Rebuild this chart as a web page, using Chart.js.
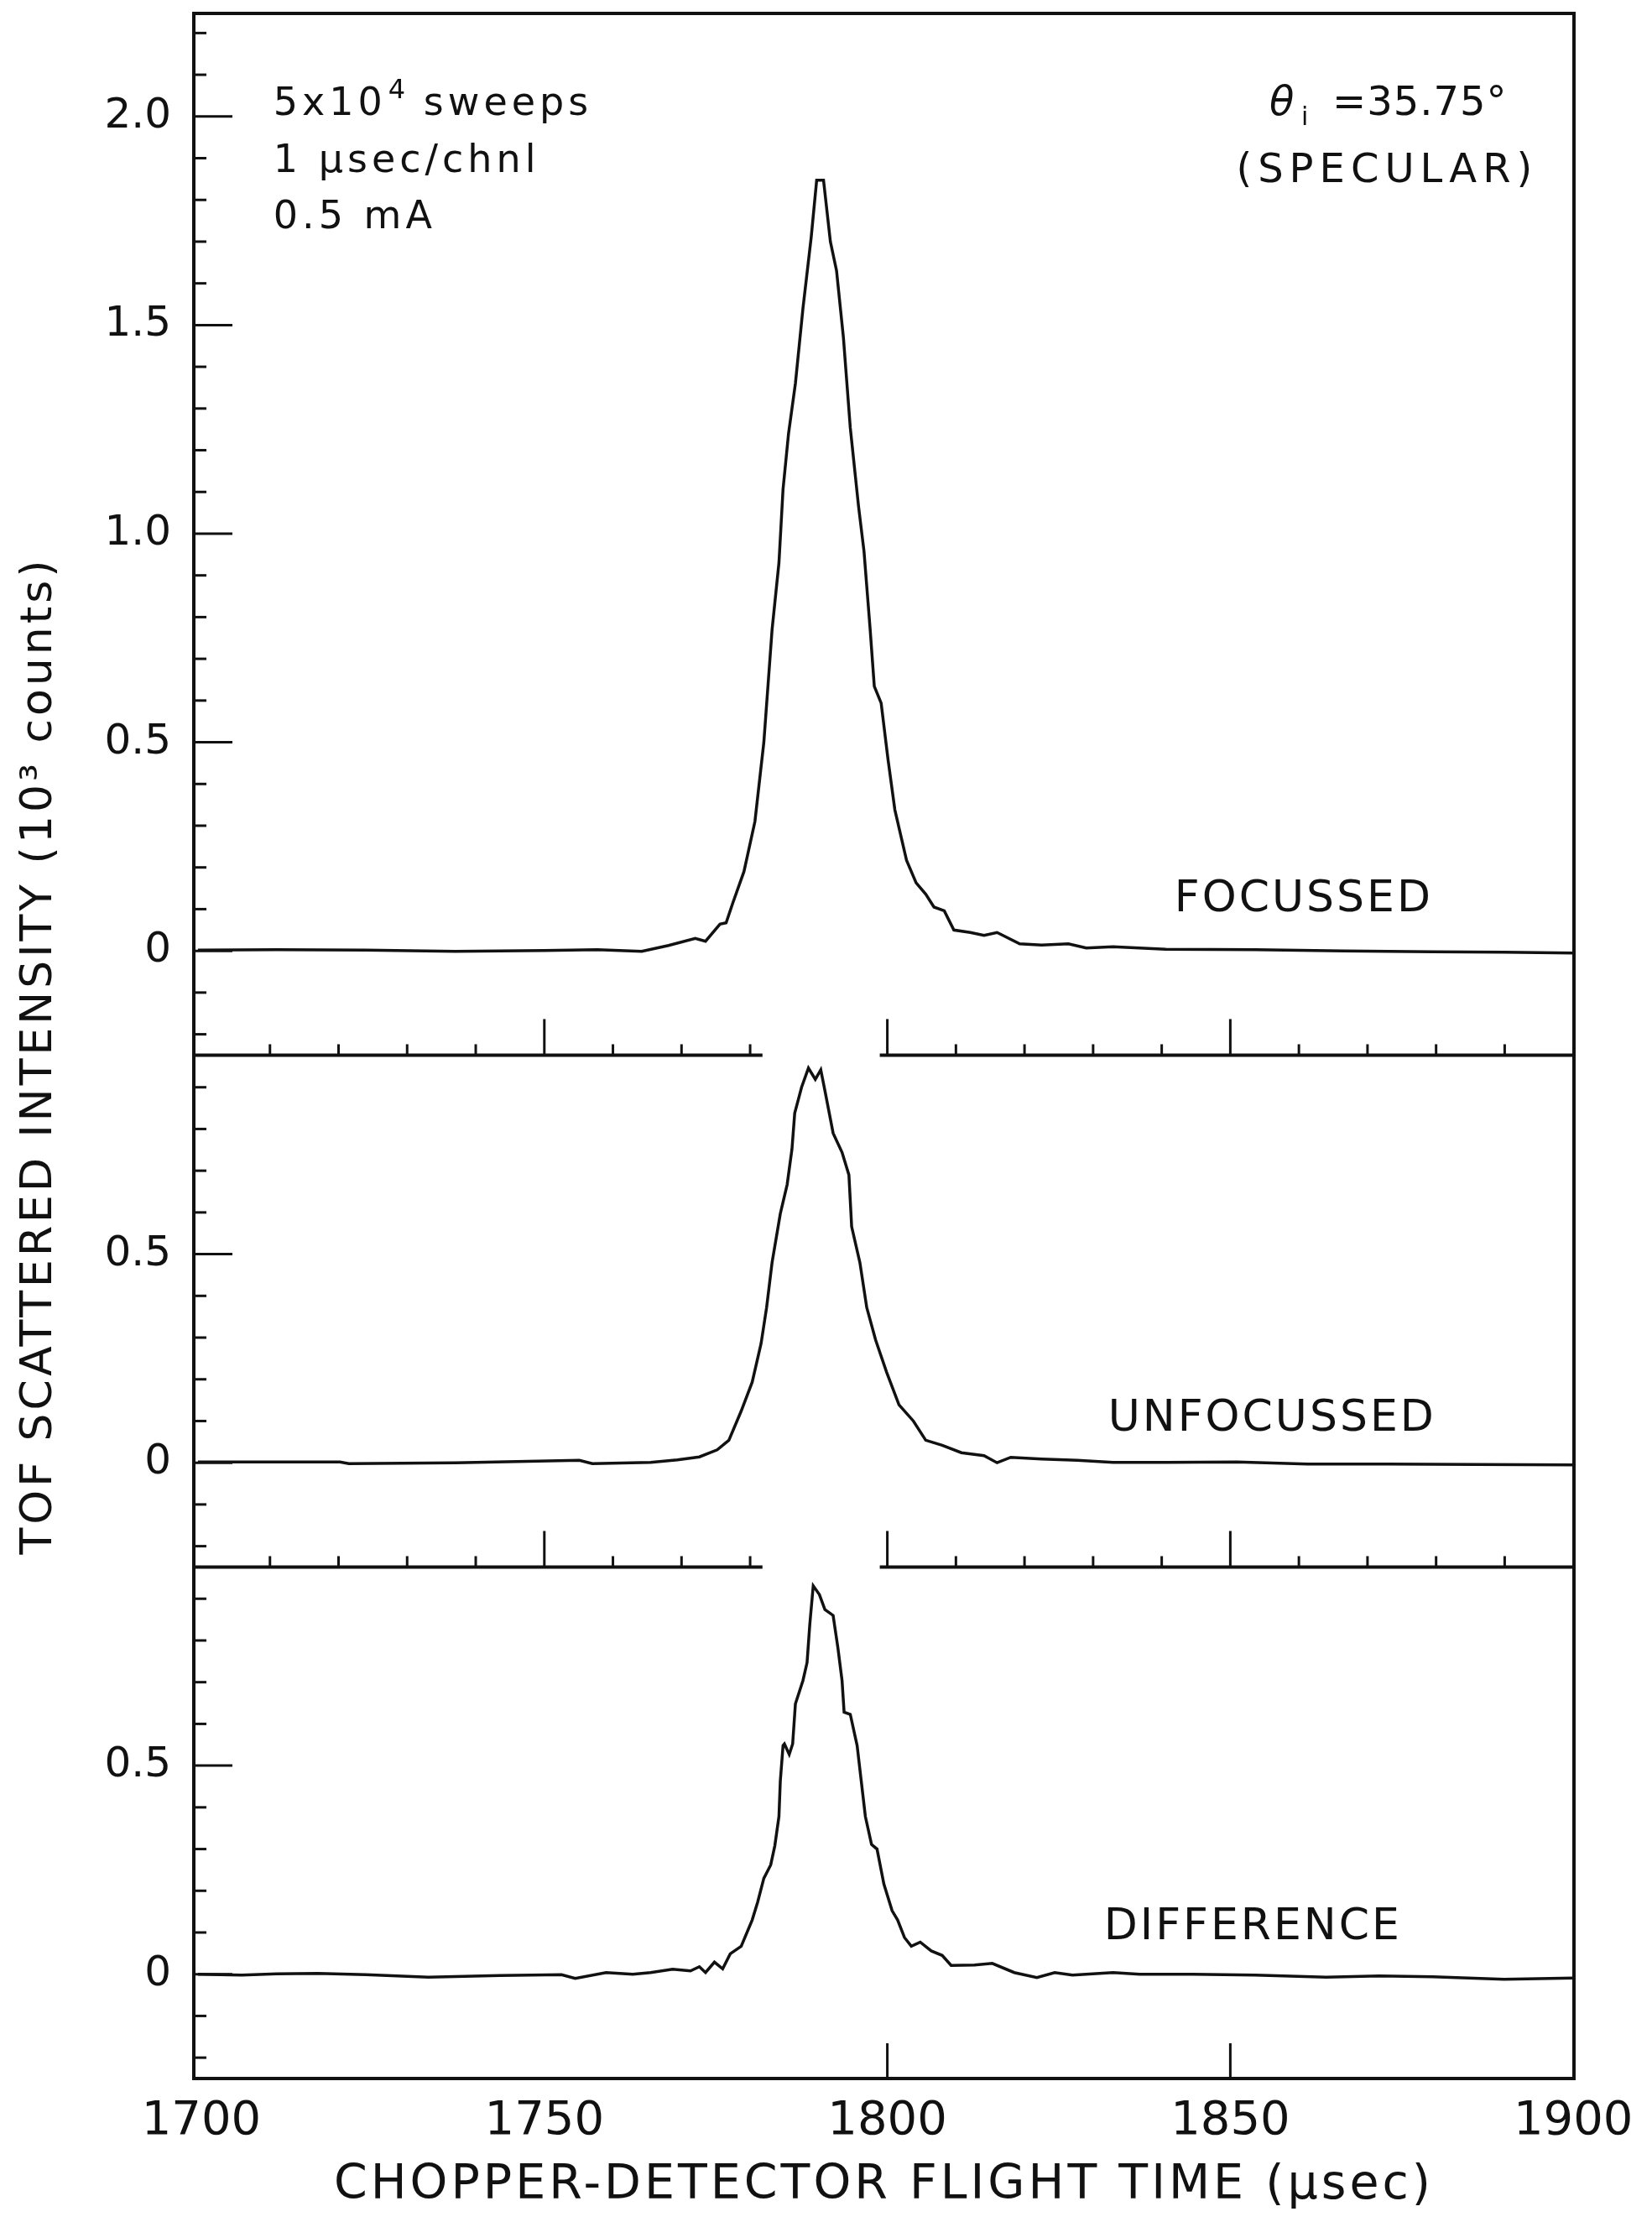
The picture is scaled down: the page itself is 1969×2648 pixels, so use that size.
<!DOCTYPE html>
<html>
<head>
<meta charset="utf-8">
<title>TOF scattered intensity</title>
<script src="https://cdn.jsdelivr.net/npm/chart.js@4.4.0/dist/chart.umd.min.js"></script>
<style>
  html, body { margin: 0; padding: 0; background: #fff; }
  #wrap { width: 1969px; height: 2648px; }
</style>
</head>
<body>
<div id="wrap"><canvas id="chart-tof" width="1969" height="2648"></canvas></div>
<script>
// Flight time (usec) and intensity (10^3 counts)
const focTime = [1699.5, 1711, 1724, 1737, 1750, 1757.7, 1764.2, 1768.1, 1772, 1773.5, 1775.6, 1776.5, 1777.5, 1779.1, 1780.7, 1782.0, 1783.2, 1784.2, 1784.8, 1785.6, 1786.6, 1787.7, 1788.9, 1789.7, 1790.7, 1791.7, 1792.6, 1793.6, 1794.6, 1795.8, 1796.6, 1797.5, 1798.1, 1799.1, 1800.1, 1801.1, 1802.8, 1804.2, 1805.6, 1806.8, 1808.3, 1809.7, 1812.1, 1814.1, 1816.0, 1819.3, 1822.5, 1826.4, 1829, 1832.9, 1840.6, 1853.6, 1866.5, 1879.5, 1889.9, 1900];
const focCounts = [0.002, 0.003, 0.002, -0.001, 0.001, 0.003, -0.001, 0.013, 0.03, 0.023, 0.064, 0.067, 0.116, 0.19, 0.31, 0.50, 0.77, 0.93, 1.107, 1.24, 1.36, 1.54, 1.71, 1.847, 1.847, 1.70, 1.63, 1.47, 1.254, 1.066, 0.958, 0.77, 0.634, 0.594, 0.459, 0.338, 0.217, 0.163, 0.136, 0.105, 0.096, 0.05, 0.044, 0.037, 0.044, 0.017, 0.014, 0.017, 0.007, 0.01, 0.004, 0.003, 0, -0.002, -0.003, -0.005];

const unfTime = [1699.5, 1720.2, 1721.5, 1737, 1755.1, 1757, 1765.5, 1769.4, 1772.6, 1775.2, 1776.9, 1778.7, 1780.3, 1781.6, 1782.4, 1783.2, 1784.4, 1785.4, 1786.1, 1786.5, 1787.5, 1788.5, 1789.5, 1790.3, 1790.9, 1792.1, 1793.4, 1794.4, 1794.8, 1796.0, 1797.0, 1798.3, 1799.9, 1801.7, 1803.8, 1805.6, 1808.0, 1810.8, 1814.1, 1816.0, 1818.0, 1822.5, 1827.7, 1832.9, 1840.6, 1851, 1861.3, 1873, 1886, 1900];
const unfCounts = [0.002, 0.002, -0.002, 0, 0.006, -0.002, 0.001, 0.007, 0.014, 0.031, 0.054, 0.124, 0.193, 0.286, 0.372, 0.48, 0.597, 0.667, 0.752, 0.838, 0.90, 0.946, 0.919, 0.942, 0.892, 0.79, 0.744, 0.69, 0.566, 0.48, 0.372, 0.294, 0.217, 0.139, 0.10, 0.054, 0.042, 0.024, 0.017, 0.0, 0.013, 0.009, 0.006, 0.001, 0.001, 0.002, -0.003, -0.003, -0.004, -0.005];

const diffTime = [1699.5, 1705.9, 1711, 1717, 1724, 1733.1, 1743.5, 1752.5, 1754.5, 1759.0, 1762.9, 1765.5, 1768.7, 1771.3, 1772.6, 1773.5, 1774.8, 1776.0, 1777.1, 1778.7, 1780.3, 1781.1, 1782.0, 1783.0, 1783.6, 1784.2, 1784.4, 1784.8, 1785.0, 1785.7, 1786.2, 1786.6, 1787.7, 1788.3, 1788.7, 1789.2, 1790.1, 1790.9, 1792.1, 1792.8, 1793.4, 1793.7, 1794.6, 1795.6, 1796.2, 1796.8, 1797.7, 1798.5, 1799.5, 1800.7, 1801.5, 1802.5, 1803.5, 1804.8, 1806.4, 1808.0, 1809.3, 1812.7, 1815.3, 1818.5, 1821.8, 1824.4, 1827, 1832.9, 1836.8, 1844.5, 1853.6, 1864, 1871.7, 1879.5, 1889.9, 1900];
const diffCounts = [0, -0.002, 0.001, 0.002, -0.001, -0.007, -0.003, -0.001, -0.01, 0.004, 0, 0.004, 0.012, 0.008, 0.018, 0.004, 0.029, 0.013, 0.049, 0.067, 0.13, 0.173, 0.23, 0.262, 0.308, 0.378, 0.463, 0.548, 0.552, 0.527, 0.552, 0.648, 0.704, 0.747, 0.839, 0.931, 0.91, 0.874, 0.86, 0.782, 0.704, 0.628, 0.623, 0.548, 0.463, 0.378, 0.311, 0.30, 0.216, 0.152, 0.13, 0.088, 0.067, 0.077, 0.056, 0.045, 0.021, 0.022, 0.026, 0.004, -0.008, 0.004, -0.002, 0.004, 0, 0, -0.002, -0.007, -0.004, -0.006, -0.012, -0.009];

// Tick labels
const xTicks = [1700, 1750, 1800, 1850, 1900];
const focTicks = [0, 0.5, 1.0, 1.5, 2.0];
const unfTicks = [0, 0.5];
const diffTicks = [0, 0.5];
const bottomMarks = [1800, 1850];
const sepGap = [1781.8, 1798.9];

// Texts
const panelLabels = ['FOCUSSED', 'UNFOCUSSED', 'DIFFERENCE'];
const infoLines = ['1 μsec/chnl', '0.5 mA'];
const yTitle = 'TOF SCATTERED INTENSITY (10³ counts)';
const xTitle = 'CHOPPER-DETECTOR FLIGHT TIME (μsec)';

const ink = '#111';
const FONT = '"DejaVu Sans"';

function yTickLabel(v) {
    return v === 0 ? '0' : v.toFixed(1);
}

function panelAxis(ticks, max, stackWeight, weight) {
    return {
        type: 'linear',
        position: 'left',
        stack: 'tof',
        stackWeight: stackWeight,
        weight: weight,
        min: -0.25,
        max: max,
        grid: { display: false },
        border: { display: false },
        afterBuildTicks: s => { s.ticks = ticks.map(v => ({ value: v })); },
        afterFit: s => {
            s.width = 231;
            s.paddingTop = 0;
            s.paddingBottom = 0;
        },
        ticks: {
            font: { family: FONT, size: 50 },
            color: ink,
            padding: 19,
            callback: yTickLabel
        }
    };
}

function line(t, v, axis) {
    return {
        data: t.map((x, i) => ({ x: x, y: v[i] })),
        yAxisID: axis,
        borderColor: ink,
        borderWidth: 3.5,
        pointRadius: 0,
        tension: 0,
        fill: false
    };
}

// Frame, inward ticks, panel separators and annotations
const tofDecor = {
    id: 'tofDecor',
    afterDatasetsDraw(chart) {
        const { ctx, chartArea: a, scales } = chart;
        const x = scales.x;
        const yF = scales.yFoc;
        const panels = [yF, scales.yUnf, scales.yDiff];
        ctx.save();
        ctx.strokeStyle = ink;
        ctx.fillStyle = ink;

        ctx.lineWidth = 4;
        ctx.strokeRect(a.left, a.top, a.right - a.left, a.bottom - a.top);

        // minor ticks every 0.1, major every 0.5, pointing into the plot
        ctx.lineWidth = 3;
        panels.forEach(s => {
            for (let k = Math.ceil(s.min * 10); k <= Math.floor(s.max * 10); k++) {
                const yy = s.getPixelForValue(k / 10);
                const len = k % 5 === 0 ? 46 : 15;
                ctx.beginPath();
                ctx.moveTo(a.left, yy);
                ctx.lineTo(a.left + len, yy);
                ctx.stroke();
            }
        });

        // separators, broken where the peak crosses
        [yF, scales.yUnf].forEach(s => {
            const yy = s.bottom;
            ctx.lineWidth = 4;
            ctx.beginPath();
            ctx.moveTo(a.left, yy);
            ctx.lineTo(x.getPixelForValue(sepGap[0]), yy);
            ctx.moveTo(x.getPixelForValue(sepGap[1]), yy);
            ctx.lineTo(a.right, yy);
            ctx.stroke();
            ctx.lineWidth = 3;
            for (let t = 1710; t < 1900; t += 10) {
                if (t > sepGap[0] && t < sepGap[1]) continue;
                const xx = x.getPixelForValue(t);
                const len = t % 50 === 0 ? 43 : 13;
                ctx.beginPath();
                ctx.moveTo(xx, yy);
                ctx.lineTo(xx, yy - len);
                ctx.stroke();
            }
        });

        // long marks on the bottom axis
        bottomMarks.forEach(t => {
            const xx = x.getPixelForValue(t);
            ctx.beginPath();
            ctx.moveTo(xx, a.bottom);
            ctx.lineTo(xx, a.bottom - 42);
            ctx.stroke();
        });

        ctx.textBaseline = 'middle';
        ctx.textAlign = 'left';

        // run parameters, top left
        const lx = x.getPixelForValue(1710.5);
        const ly = yF.getPixelForValue(2.028);
        ctx.font = '46px ' + FONT;
        ctx.letterSpacing = '5px';
        ctx.fillText('5x10', lx, ly);
        const w = ctx.measureText('5x10').width;
        ctx.font = '32px ' + FONT;
        ctx.fillText('4', lx + w + 2, ly - 16);
        ctx.font = '46px ' + FONT;
        ctx.fillText('sweeps', lx + w + 44, ly);
        [1.891, 1.757].forEach((v, i) => {
            ctx.fillText(infoLines[i], lx, yF.getPixelForValue(v));
        });

        // incidence angle, top right
        const tx = x.getPixelForValue(1855.7);
        const ty = yF.getPixelForValue(2.028);
        ctx.letterSpacing = '0px';
        ctx.font = 'italic 48px ' + FONT;
        ctx.fillText('θ', tx, ty);
        ctx.font = '30px ' + FONT;
        ctx.fillText('i', tx + 38, ty + 16);
        ctx.font = '48px ' + FONT;
        ctx.letterSpacing = '1px';
        ctx.fillText('=35.75°', tx + 75, ty);
        ctx.letterSpacing = '7px';
        ctx.textAlign = 'center';
        ctx.fillText('(SPECULAR)', x.getPixelForValue(1872.5) + 3, yF.getPixelForValue(1.867));

        // panel names
        ctx.font = '52px ' + FONT;
        ctx.letterSpacing = '3px';
        const spots = [[1860.7, 0.123], [1856.1, 0.104], [1853.3, 0.112]];
        panels.forEach((s, i) => {
            ctx.fillText(panelLabels[i], x.getPixelForValue(spots[i][0]), s.getPixelForValue(spots[i][1]));
        });

        // x axis title
        ctx.font = '57px ' + FONT;
        ctx.letterSpacing = '4px';
        ctx.fillText(xTitle, (a.left + a.right) / 2, 2605);

        // y axis title across all three panels
        ctx.font = '52px ' + FONT;
        ctx.letterSpacing = '4px';
        ctx.translate(47, 1258);
        ctx.rotate(-Math.PI / 2);
        ctx.fillText(yTitle, 0, 0);
        ctx.restore();
    }
};

document.addEventListener('DOMContentLoaded', () => {
    const ctx = document.getElementById('chart-tof').getContext('2d');
    new Chart(ctx, {
        type: 'line',
        data: {
            datasets: [
                line(focTime, focCounts, 'yFoc'),
                line(unfTime, unfCounts, 'yUnf'),
                line(diffTime, diffCounts, 'yDiff')
            ]
        },
        options: {
            responsive: false,
            animation: false,
            layout: { padding: { top: 16, right: 93, left: 0, bottom: 0 } },
            plugins: {
                legend: { display: false },
                tooltip: { enabled: false }
            },
            scales: {
                x: {
                    type: 'linear',
                    min: 1698.9,
                    max: 1900.1,
                    grid: { display: false },
                    border: { display: false },
                    afterBuildTicks: s => { s.ticks = xTicks.map(v => ({ value: v })); },
                    afterFit: s => { s.height = 171; },
                    ticks: {
                        font: { family: FONT, size: 56 },
                        color: ink,
                        padding: 10,
                        maxRotation: 0,
                        autoSkip: false,
                        callback: v => String(v)
                    }
                },
                yFoc: panelAxis(focTicks, 2.247, 2.497, 3),
                yUnf: panelAxis(unfTicks, 0.977, 1.227, 2),
                yDiff: panelAxis(diffTicks, 0.976, 1.226, 1)
            }
        },
        plugins: [tofDecor]
    });
});
</script>
</body>
</html>
